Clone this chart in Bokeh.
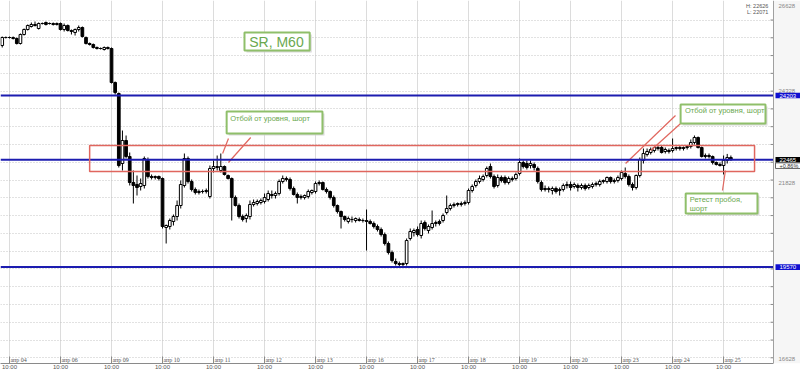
from bokeh.plotting import figure
from bokeh.models import (Range1d, FixedTicker, Span, Label, LabelSet,
                          ColumnDataSource, BoxAnnotation)
from bokeh.embed import file_html
from bokeh.resources import INLINE

# ---------------- data (hourly candles, SR M60) ----------------
first_index = -2          # two candles before the "апр 04 10:00" tick
candles_per_day = 14

opens = [
    25553, 25769,
    25769, 25769, 25742, 25607, 25850, 25985, 26066, 26120, 26012, 26147, 26174, 26147, 26147, 26120,
    26147, 25985, 26093, 25931, 25904, 25985, 26039, 25769, 25607, 25580, 25499, 25472, 25445, 25499,
    25472, 24554, 24257, 22367, 22988, 22556, 21854, 21800, 21746, 21773, 22448, 22016, 21989, 22016,
    21962, 20639, 20666, 20801, 20936, 21233, 21773, 22502, 21881, 21665, 21584, 21611, 21611, 21476,
    22232, 22259, 22178, 22286, 22043, 21962, 21449, 21233, 20936, 20882, 20936, 21260, 21287, 21314,
    21341, 21395, 21530, 21503, 21557, 21881, 21962, 21935, 21692, 21530, 21449, 21449, 21476, 21584,
    21611, 21827, 21854, 21665, 21611, 21449, 21233, 21071, 20936, 20801, 20855, 20828, 20855, 20828,
    20828, 20801, 20747, 20666, 20585, 20450, 20207, 19964, 19721, 19667, 19640, 19667, 20342, 20504,
    20585, 20423, 20774, 20558, 20639, 20747, 20801, 20828, 21044, 21152, 21233, 21260, 21260, 21287,
    21314, 21638, 21773, 21881, 21935, 22043, 22286, 22016, 21773, 21989, 21989, 21854, 21935, 21962,
    22097, 22394, 22367, 22313, 22340, 22232, 21854, 21692, 21665, 21638, 21692, 21638, 21665, 21773,
    21800, 21746, 21773, 21719, 21773, 21719, 21746, 21800, 21800, 21881, 21881, 21989, 21881, 21908,
    21962, 22097, 22016, 21800, 21719, 22043, 22448, 22610, 22664, 22718, 22772, 22799, 22691, 22718,
    22718, 22772, 22799, 22772, 22799, 22826, 22934, 23069, 22799, 22556, 22583, 22556, 22394, 22340,
    22313, 22448, 22529,
]
highs = [
    25796, 25796,
    25796, 25796, 25769, 25877, 26012, 26120, 26174, 26201, 26174, 26174, 26201, 26174, 26174, 26174,
    26174, 26147, 26120, 25985, 26012, 26093, 26066, 25796, 25634, 25607, 25526, 25499, 25526, 25526,
    25499, 24581, 24284, 23258, 23123, 22664, 22178, 22043, 21962, 22556, 22529, 22070, 22043, 22043,
    21989, 20720, 20882, 20990, 21368, 21908, 22637, 22556, 21935, 21719, 21665, 21665, 21692, 22313,
    22448, 22583, 22637, 22313, 22070, 21989, 21503, 21287, 20990, 21017, 21368, 21395, 21395, 21422,
    21557, 21638, 21638, 21611, 21935, 22043, 22016, 21989, 21746, 21584, 21530, 21530, 21665, 21665,
    21881, 21908, 21881, 21719, 21638, 21503, 21260, 21098, 20963, 20936, 20936, 20909, 20909, 20882,
    21125, 20855, 20801, 20720, 20639, 20504, 20261, 20018, 19802, 19721, 19694, 20342, 20612, 20612,
    20666, 20828, 20828, 20720, 21098, 20828, 20855, 21017, 21503, 21287, 21314, 21314, 21341, 21368,
    21692, 21800, 21935, 22043, 22070, 22286, 22367, 22070, 22070, 22043, 22043, 22016, 22016, 22124,
    22502, 22448, 22448, 22448, 22394, 22286, 21908, 21773, 21746, 21746, 21746, 21719, 21827, 21881,
    21881, 21854, 21827, 21827, 21827, 21827, 21854, 21881, 21935, 21935, 22016, 22016, 21962, 22043,
    22178, 22259, 22070, 21854, 22070, 22529, 22772, 22772, 22799, 22826, 22853, 22853, 22799, 22772,
    23042, 22826, 22853, 22826, 22853, 23015, 23123, 23096, 22826, 22637, 22637, 22583, 22421, 22394,
    22583, 22626, 22583,
]
lows = [
    25499, 25742,
    25742, 25715, 25580, 25580, 25823, 25958, 26039, 26066, 25985, 26120, 26093, 26120, 26093, 26093,
    25958, 25931, 25931, 25850, 25823, 25931, 25769, 25580, 25553, 25472, 25445, 25445, 25418, 25445,
    24527, 24230, 22259, 22178, 22502, 21773, 21287, 21503, 21638, 21692, 21962, 21935, 21935, 21908,
    20612, 20207, 20585, 20693, 20828, 21152, 21719, 21827, 21611, 21530, 21530, 21557, 21557, 21422,
    22124, 22178, 22124, 22043, 21935, 20828, 21206, 20882, 20801, 20774, 20855, 21206, 21233, 21260,
    21287, 21341, 21422, 21422, 21503, 21827, 21881, 21638, 21503, 21287, 21395, 21395, 21422, 21530,
    21557, 21773, 21638, 21557, 21395, 21179, 21017, 20612, 20801, 20747, 20774, 20774, 20801, 20774,
    20018, 20720, 20612, 20531, 20396, 20153, 19910, 19694, 19613, 19586, 19586, 19613, 20288, 20396,
    20396, 20342, 20558, 20477, 20585, 20666, 20693, 20774, 20990, 21098, 21179, 21206, 21206, 21233,
    21260, 21584, 21719, 21827, 21881, 21989, 21962, 21692, 21719, 21854, 21800, 21800, 21881, 21908,
    22043, 22232, 22205, 22232, 22178, 21827, 21611, 21611, 21584, 21530, 21557, 21503, 21611, 21692,
    21638, 21692, 21611, 21665, 21638, 21665, 21692, 21746, 21746, 21827, 21827, 21827, 21827, 21854,
    21908, 21962, 21746, 21638, 21665, 21989, 22367, 22556, 22610, 22664, 22718, 22637, 22637, 22637,
    22664, 22718, 22718, 22718, 22745, 22772, 22880, 22772, 22529, 22502, 22502, 22340, 22313, 22286,
    22071, 22367, 22448,
]
closes = [
    25769, 25769,
    25769, 25742, 25607, 25850, 25985, 26093, 26120, 26093, 26147, 26147, 26120, 26147, 26120, 26147,
    25985, 26093, 25958, 25958, 25985, 26039, 25796, 25607, 25580, 25499, 25472, 25472, 25499, 25472,
    24554, 24284, 22313, 22988, 22556, 21854, 21773, 21719, 21827, 22502, 22016, 21989, 22016, 21962,
    20666, 20693, 20828, 20936, 21233, 21800, 22502, 21881, 21665, 21584, 21611, 21611, 21638, 22232,
    22286, 22286, 22286, 22070, 21962, 21449, 21233, 20936, 20855, 20963, 21260, 21314, 21341, 21368,
    21449, 21557, 21503, 21557, 21881, 21962, 21935, 21692, 21530, 21449, 21476, 21503, 21611, 21638,
    21827, 21854, 21665, 21611, 21449, 21233, 21071, 20936, 20855, 20882, 20855, 20882, 20828, 20828,
    20801, 20747, 20666, 20585, 20450, 20207, 19964, 19748, 19667, 19640, 19667, 20288, 20531, 20558,
    20450, 20747, 20612, 20666, 20747, 20774, 20747, 20963, 21152, 21233, 21260, 21287, 21287, 21314,
    21638, 21746, 21881, 21962, 22016, 22232, 22016, 21746, 21989, 21908, 21854, 21962, 21962, 22070,
    22394, 22286, 22259, 22367, 22259, 21881, 21665, 21665, 21692, 21692, 21611, 21665, 21773, 21800,
    21719, 21800, 21719, 21773, 21692, 21773, 21800, 21827, 21881, 21908, 21989, 21881, 21908, 21989,
    22124, 22016, 21800, 21719, 22043, 22475, 22637, 22691, 22745, 22799, 22799, 22664, 22745, 22691,
    22772, 22799, 22772, 22799, 22826, 22934, 23069, 22799, 22556, 22583, 22556, 22394, 22340, 22313,
    22448, 22529, 22465,
]

day_labels = ["апр 04", "апр 06", "апр 09", "апр 10", "апр 11", "апр 12", "апр 13", "апр 16",
              "апр 17", "апр 18", "апр 19", "апр 20", "апр 23", "апр 24", "апр 25"]
time_label = "10:00"

level_prices = [24203, 22465, 19570]          # horizontal support / resistance levels
level_box_colors = ["#1010d0", "#000000", "#1010d0"]
zone_top, zone_bottom = 22853, 22151          # red zone around 22465
zone_left, zone_right = 22.0, 204.5           # candle-index span of the zone

scale_label_prices = [26628, 24328, 21828, 17102]
scale_label_texts = ["26628", "24328", "21828", "16628"]
grid_prices = [26241 - 480 * n for n in range(20)]

day_high, day_low, last_change = 22626, 22071, "+0.86%"

# ---------------- layout ----------------
X_START, X_END = -2.47, 217.11     # frame spans the whole 800 px width
AXIS_X = 209.7                     # price scale line (x = 773 px)
Y_BOTTOM, Y_TOP = 16967, 26768
FONT = "Liberation Sans"
GREEN_TXT = "#6aa84f"
GREEN_BOX = "#8fbf6a"
RED = "#e0665e"
BLUE = "#1c1cb0"
PX_Y = 27.0                        # price units per pixel
PX_X = 0.2745                      # index units per pixel

p = figure(width=800, height=372, output_backend="svg", toolbar_location=None,
           x_range=Range1d(X_START, X_END), y_range=Range1d(Y_BOTTOM, Y_TOP),
           y_axis_location=None, min_border_left=0, min_border_top=0,
           min_border_right=0, min_border_bottom=9)
p.outline_line_color = None
p.background_fill_color = "white"
p.border_fill_color = "white"

# grids
day_ticks = [d * candles_per_day for d in range(len(day_labels))]
p.xgrid.ticker = FixedTicker(ticks=day_ticks)
p.xgrid.grid_line_color = "#dcdcdc"
p.ygrid.ticker = FixedTicker(ticks=grid_prices)
p.ygrid.grid_line_color = "#c4c4c4"
p.ygrid.grid_line_dash = "1 2"

# bottom (time) axis
xa = p.xaxis[0]
xa.ticker = FixedTicker(ticks=day_ticks)
xa.bounds = (X_START, AXIS_X)
xa.major_label_overrides = {t: time_label for t in day_ticks}
xa.major_label_text_align = "left"
xa.major_label_text_font_size = "6px"
xa.major_label_text_color = "#555555"
xa.major_label_text_font = FONT
xa.major_label_standoff = 0
xa.major_tick_in = 7
xa.major_tick_out = 0
xa.minor_tick_line_color = None
xa.axis_line_color = "#8a8a8a"
xa.major_tick_line_color = "#8a8a8a"

# date labels just above the time axis
date_src = ColumnDataSource(dict(x=day_ticks, y=[Y_BOTTOM] * len(day_ticks), text=day_labels))
p.add_layout(LabelSet(x="x", y="y", text="text", source=date_src, x_offset=1, y_offset=1,
                      text_font_size="6px", text_color="#555555", text_font=FONT,
                      text_baseline="bottom"))

# ---------------- candles ----------------
idx = list(range(first_index, first_index + len(closes)))
up = dict(x=[], top=[], bottom=[])
dn = dict(x=[], top=[], bottom=[])
for i, o, c in zip(idx, opens, closes):
    d = up if c >= o else dn
    d["x"].append(i)
    d["top"].append(max(o, c))
    d["bottom"].append(min(o, c))

p.segment(x0=idx, y0=highs, x1=idx, y1=lows, line_color="black", line_width=1)
p.vbar(x="x", top="top", bottom="bottom", width=0.74, source=ColumnDataSource(up),
       fill_color="white", line_color="black", line_width=1)
p.vbar(x="x", top="top", bottom="bottom", width=0.74, source=ColumnDataSource(dn),
       fill_color="black", line_color="black", line_width=1)

# ---------------- levels and zone ----------------
for lv in level_prices:
    p.add_layout(Span(location=lv, dimension="width", line_color=BLUE, line_width=2))

p.add_layout(BoxAnnotation(left=zone_left, right=zone_right, top=zone_top, bottom=zone_bottom,
                           fill_alpha=0, line_color=RED, line_alpha=1, line_width=1.5))

# ---------------- callouts ----------------
def callout(left, right, top, bottom, lines, size, tx, ty, line_gap):
    p.add_layout(BoxAnnotation(left=left + 2 * PX_X, right=right + 2 * PX_X,
                               top=top - 2 * PX_Y, bottom=bottom - 2 * PX_Y,
                               fill_color="#d0d0d0", fill_alpha=0.8, line_alpha=0))
    p.add_layout(BoxAnnotation(left=left, right=right, top=top, bottom=bottom,
                               fill_color="white", fill_alpha=1, line_color=GREEN_BOX,
                               line_alpha=1, line_width=2))
    for k, t in enumerate(lines):
        p.add_layout(Label(x=tx, y=ty - k * line_gap, text=t, text_font=FONT,
                           text_font_size=size, text_color=GREEN_TXT,
                           text_baseline="middle", text_align="left"))

callout(64.5, 82.4, 25904, 25418, ["SR, M60"], "14px", 65.8, 25661, 0)
callout(59.6, 85.9, 23771, 23177, ["Отбой от уровня, шорт"], "7.5px", 60.6, 23582, 0)
callout(184.2, 207.5, 23960, 23447, ["Отбой от уровня, шорт"], "7.5px", 185.4, 23798, 0)
callout(185.6, 205.3, 21557, 21017, ["Ретест пробоя,", "шорт"], "7.5px", 186.7, 21400, 240)

# arrows
p.segment(x0=[60.1, 66.2, 182.8, 184.2, 195.7], y0=[23042, 23069, 23663, 23447, 21638],
          x1=[58.5, 60.1, 169.1, 176.0, 196.5], y1=[22637, 22394, 22367, 22718, 22178],
          line_color=RED, line_width=1.2)

# top-right high / low
p.add_layout(Label(x=208.3, y=26633, text=f"H: {day_high}", text_font=FONT, text_font_size="5.5px",
                   text_color="#555555", text_align="right", text_baseline="middle"))
p.add_layout(Label(x=208.3, y=26471, text=f"L: {day_low}", text_font=FONT, text_font_size="5.5px",
                   text_color="#555555", text_align="right", text_baseline="middle"))

# ---------------- price scale (right strip) ----------------
p.segment(x0=[AXIS_X - 3 * PX_X] * len(grid_prices), x1=[AXIS_X] * len(grid_prices),
          y0=grid_prices, y1=grid_prices, line_color="#8a8a8a", line_width=1)
p.add_layout(BoxAnnotation(left=AXIS_X, fill_color="#f6f6f6", fill_alpha=1, line_alpha=0))
p.add_layout(Span(location=AXIS_X, dimension="height", line_color="#a0a0a0", line_width=1))

for pr, txt in zip(scale_label_prices, scale_label_texts):
    p.add_layout(Label(x=AXIS_X, y=pr, text=txt, text_font=FONT, text_font_size="6px",
                       text_color="#888888", text_align="left", text_baseline="middle",
                       x_offset=5))

for pr, col in zip(level_prices, level_box_colors):
    p.add_layout(BoxAnnotation(left=AXIS_X + 2 * PX_X, top=pr + 2.8 * PX_Y, bottom=pr - 2.8 * PX_Y,
                               fill_color=col, fill_alpha=1, line_alpha=0))
    p.add_layout(Label(x=AXIS_X, y=pr, text=str(pr), text_font=FONT, text_font_size="6px",
                       text_color="white", text_align="left", text_baseline="middle",
                       x_offset=6))

chg_y = level_prices[1] - 5.8 * PX_Y
p.add_layout(BoxAnnotation(left=AXIS_X + 2 * PX_X, top=chg_y + 2.8 * PX_Y, bottom=chg_y - 2.8 * PX_Y,
                           fill_color="white", fill_alpha=1, line_color="#666666", line_alpha=1,
                           line_width=1))
p.add_layout(Label(x=AXIS_X, y=chg_y, text=last_change, text_font=FONT, text_font_size="5.5px",
                   text_color="#333333", text_align="left", text_baseline="middle", x_offset=6))

open("out.html", "w").write(file_html(p, INLINE))
